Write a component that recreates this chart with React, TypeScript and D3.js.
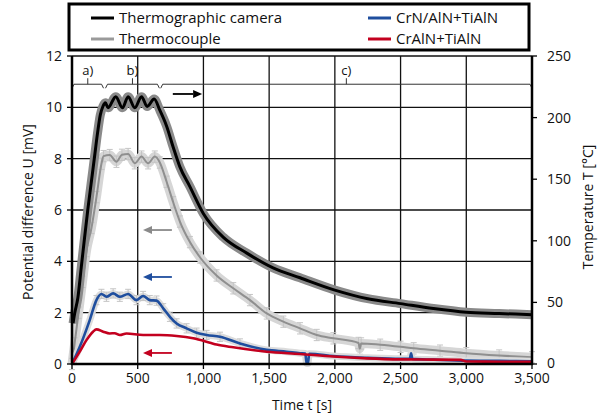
import React from "react";
import * as d3 from "d3";

// ---------- data ----------
const timeTicks = [0, 500, 1000, 1500, 2000, 2500, 3000, 3500];
const voltTicks = [0, 2, 4, 6, 8, 10, 12];
const tempTicks = [0, 50, 100, 150, 200, 250];

// Thermographic camera (temperature, °C, right axis)
const cameraTime = [8, 20, 45, 70, 95, 120, 145, 170, 195, 215, 235, 254, 274, 333, 384, 427, 478, 529, 572, 625, 668, 720, 770, 821, 897, 1000, 1150, 1330, 1530, 1735, 2000, 2250, 2500, 2750, 3000, 3250, 3500];
const cameraTemp = [33, 41, 54, 78, 102, 125, 146, 167, 188, 202, 209, 212, 208, 217, 208, 217, 208, 217, 209, 215, 206, 193, 176, 160, 144, 122, 103, 90, 78, 70, 60, 53, 49, 45, 42, 41, 40];

// Thermocouple (mV, left axis)
const tcTime = [0, 20, 50, 80, 110, 148, 186, 224, 240, 287, 338, 380, 427, 478, 529, 579, 630, 668, 720, 770, 821, 897, 975, 1100, 1227, 1354, 1482, 1608, 1735, 1862, 1989, 2180, 2190, 2200, 2345, 2500, 2600, 2800, 3000, 3250, 3500];
const tcVolt = [0, 0.8, 2.0, 3.2, 4.4, 5.3, 6.5, 7.8, 8.1, 8.14, 7.88, 8.15, 8.18, 7.82, 8.08, 7.82, 8.08, 7.85, 7.1, 6.3, 5.55, 4.75, 4.15, 3.45, 2.95, 2.49, 1.97, 1.65, 1.39, 1.13, 1.0, 0.82, 0.6, 0.8, 0.75, 0.67, 0.61, 0.52, 0.42, 0.33, 0.26];
const tcError = 0.22;

// CrN/AlN+TiAlN (mV)
const crnTime = [0, 59, 135, 186, 224, 262, 313, 364, 427, 491, 541, 592, 643, 694, 745, 796, 872, 948, 1024, 1126, 1278, 1482, 1634, 1735, 1775, 1785, 1795, 1805, 1989, 2250, 2500, 2570, 2580, 2590, 2750, 3000, 3250, 3500];
const crnVolt = [0, 0.67, 1.71, 2.49, 2.73, 2.62, 2.75, 2.62, 2.73, 2.49, 2.65, 2.49, 2.47, 2.17, 1.84, 1.58, 1.39, 1.22, 1.13, 1.06, 0.8, 0.55, 0.48, 0.42, 0.41, 0.02, 0.02, 0.4, 0.31, 0.24, 0.2, 0.2, 0.42, 0.2, 0.17, 0.13, 0.12, 0.11];
const crnError = 0.18;

// CrAlN+TiAlN (mV)
const cralnTime = [0, 59, 110, 160, 186, 237, 287, 325, 364, 415, 541, 668, 796, 922, 1050, 1100, 1227, 1482, 1735, 1989, 2243, 2497, 2750, 2957, 3000, 3250, 3500];
const cralnVolt = [0, 0.48, 0.93, 1.26, 1.35, 1.26, 1.19, 1.2, 1.13, 1.19, 1.13, 1.13, 1.09, 1.0, 0.83, 0.76, 0.65, 0.48, 0.39, 0.29, 0.22, 0.18, 0.17, 0.16, 0.1, 0.09, 0.09];

// phases
const phaseLabels = ["a)", "b)", "c)"];
const phaseStart = [0, 255, 675];
const phaseEnd = [240, 665, 3500];
const phaseLevel = 10.9;

const legendNames = ["Thermographic camera", "Thermocouple", "CrN/AlN+TiAlN", "CrAlN+TiAlN"];

// ---------- style ----------
const C_CAMERA = "#000000";
const C_HALO = "#8a8a8a";
const C_TC = "#8f8f8f";
const C_ERR = "#c4c4c4";
const C_BLUE = "#1f4e9e";
const C_RED = "#c3001f";
const FONT = "'Open Sans', 'Noto Sans', sans-serif";

const W = 603;
const H = 418;
const M = { left: 72, right: 532, top: 56, bottom: 364 };

export default function App() {
  const x = d3.scaleLinear().domain([0, 3500]).range([M.left, M.right]);
  const yL = d3.scaleLinear().domain([0, 12]).range([M.bottom, M.top]);
  const yR = d3.scaleLinear().domain([0, 250]).range([M.bottom, M.top]);

  const mk = (ts: number[], vs: number[], ys: d3.ScaleLinear<number, number>) =>
    d3
      .line<number>()
      .x((_, i) => x(ts[i]))
      .y((v) => ys(v))
      .curve(d3.curveMonotoneX)(vs) || "";

  const camPath = mk(cameraTime, cameraTemp, yR);
  const tcPath = mk(tcTime, tcVolt, yL);
  const crnPath = mk(crnTime, crnVolt, yL);
  const cralnPath = mk(cralnTime, cralnVolt, yL);

  const fmt = d3.format(",");

  const arrow = (x1: number, x2: number, y: number, color: string, key: string) => {
    const dir = Math.sign(x2 - x1);
    const head = 9;
    return (
      <g key={key}>
        <line x1={x1} x2={x2 - dir * head} y1={y} y2={y} stroke={color} strokeWidth={1.8} />
        <path d={`M${x2},${y} L${x2 - dir * head},${y - 4} L${x2 - dir * head},${y + 4} Z`} fill={color} />
      </g>
    );
  };

  const py = yL(phaseLevel);

  return (
    <svg width={W} height={H} style={{ position: "absolute", left: 0, top: 0, fontFamily: FONT }}>
      <rect x={0} y={0} width={W} height={H} fill="#fff" />
      {/* grid */}
      {timeTicks.map((t) => (
        <line key={"gx" + t} x1={x(t)} x2={x(t)} y1={M.top} y2={M.bottom} stroke="#111" strokeWidth={1.3} />
      ))}
      {voltTicks.map((v) => (
        <line key={"gy" + v} x1={M.left} x2={M.right} y1={yL(v)} y2={yL(v)} stroke="#111" strokeWidth={1.3} />
      ))}

      {/* phase brackets */}
      {phaseLabels.map((lab, i) => {
        const a = x(phaseStart[i]);
        const b = x(phaseEnd[i]);
        const m = (a + b) / 2;
        return (
          <g key={"ph" + i} stroke="#333" strokeWidth={1} fill="none">
            <path d={`M${a},${py + 4} L${a + 2},${py} L${b - 2},${py} L${b},${py + 4}`} />
            <line x1={m} x2={m} y1={py} y2={py - 6} />
            <text x={m} y={py - 9} textAnchor="middle" fontSize={13} fill="#111" stroke="none">
              {lab}
            </text>
          </g>
        );
      })}

      {/* thermocouple with error bars */}
      <path d={tcPath} fill="none" stroke="#d6d6d6" strokeWidth={9} strokeLinejoin="round" />
      {tcTime.map((t, i) => (
        <g key={"te" + i} stroke={C_ERR} strokeWidth={1}>
          <line x1={x(t)} x2={x(t)} y1={yL(tcVolt[i] + tcError)} y2={yL(tcVolt[i] - tcError)} />
          <line x1={x(t) - 3} x2={x(t) + 3} y1={yL(tcVolt[i] + tcError)} y2={yL(tcVolt[i] + tcError)} />
          <line x1={x(t) - 3} x2={x(t) + 3} y1={yL(tcVolt[i] - tcError)} y2={yL(tcVolt[i] - tcError)} />
        </g>
      ))}
      <path d={tcPath} fill="none" stroke={C_TC} strokeWidth={2} strokeLinejoin="round" />

      {/* camera */}
      <path d={camPath} fill="none" stroke={C_HALO} strokeWidth={9} strokeLinejoin="round" />
      <path d={camPath} fill="none" stroke={C_CAMERA} strokeWidth={3} strokeLinejoin="round" />

      {/* CrN/AlN+TiAlN */}
      <path d={crnPath} fill="none" stroke="#dcdcdc" strokeWidth={7} strokeLinejoin="round" />
      {crnTime.map((t, i) =>
        t > 150 && t < 1300 ? (
          <g key={"ce" + i} stroke={C_ERR} strokeWidth={1}>
            <line x1={x(t)} x2={x(t)} y1={yL(crnVolt[i] + crnError)} y2={yL(crnVolt[i] - crnError)} />
            <line x1={x(t) - 3} x2={x(t) + 3} y1={yL(crnVolt[i] + crnError)} y2={yL(crnVolt[i] + crnError)} />
            <line x1={x(t) - 3} x2={x(t) + 3} y1={yL(crnVolt[i] - crnError)} y2={yL(crnVolt[i] - crnError)} />
          </g>
        ) : null
      )}
      <path d={crnPath} fill="none" stroke={C_BLUE} strokeWidth={2.6} strokeLinejoin="round" />

      {/* CrAlN+TiAlN */}
      <path d={cralnPath} fill="none" stroke={C_RED} strokeWidth={2.6} strokeLinejoin="round" />

      {/* arrows */}
      {arrow(x(767), x(990), yL(10.52), "#000", "a0")}
      {arrow(x(760), x(540), yL(5.22), "#8a8a8a", "a1")}
      {arrow(x(760), x(540), yL(3.39), C_BLUE, "a2")}
      {arrow(x(760), x(540), yL(0.43), C_RED, "a3")}

      {/* axes */}
      <line x1={M.left} x2={M.left} y1={M.top} y2={M.bottom + 1} stroke="#000" strokeWidth={2.5} />
      <line x1={M.right} x2={M.right} y1={M.top} y2={M.bottom + 1} stroke="#000" strokeWidth={2.5} />
      <line x1={M.left - 1} x2={M.right + 1} y1={M.bottom} y2={M.bottom} stroke="#000" strokeWidth={2.5} />

      {voltTicks.map((v) => (
        <g key={"yl" + v}>
          <line x1={M.left - 5} x2={M.left} y1={yL(v)} y2={yL(v)} stroke="#000" strokeWidth={1.3} />
          <text x={M.left - 10} y={yL(v)} dy="0.35em" textAnchor="end" fontSize={14} fill="#111">
            {v}
          </text>
        </g>
      ))}
      {tempTicks.map((v) => (
        <g key={"yr" + v}>
          <line x1={M.right} x2={M.right + 5} y1={yR(v)} y2={yR(v)} stroke="#000" strokeWidth={1.3} />
          <text x={M.right + 15} y={yR(v)} dy={v === 0 ? "0.25em" : "0.35em"} textAnchor="start" fontSize={14} fill="#111">
            {v}
          </text>
        </g>
      ))}
      {timeTicks.map((t) => (
        <g key={"xt" + t}>
          <line x1={x(t)} x2={x(t)} y1={M.bottom} y2={M.bottom + 5} stroke="#000" strokeWidth={1.3} />
          <text x={x(t)} y={M.bottom + 19} textAnchor="middle" fontSize={14} fill="#111">
            {fmt(t)}
          </text>
        </g>
      ))}

      <text x={(M.left + M.right) / 2} y={410} textAnchor="middle" fontSize={14} fill="#111">
        Time t [s]
      </text>
      <text transform={`translate(33,${(M.top + M.bottom) / 2 + 2}) rotate(-90)`} textAnchor="middle" fontSize={14} fill="#111">
        Potential difference U [mV]
      </text>
      <text transform={`translate(593,${207}) rotate(-90)`} textAnchor="middle" fontSize={14} fill="#111">
        Temperature T [°C]
      </text>

      {/* legend */}
      <rect x={69} y={4} width={460} height={46} fill="#fff" stroke="#000" strokeWidth={3} />
      {legendNames.map((name, i) => {
        const col = i < 2 ? 0 : 1;
        const row = i % 2;
        const lx = col === 0 ? 91 : 368;
        const ly = row === 0 ? 18 : 39;
        const color = [C_CAMERA, "#9a9a9a", C_BLUE, C_RED][i];
        return (
          <g key={"lg" + i}>
            <line x1={lx} x2={lx + 23} y1={ly} y2={ly} stroke={color} strokeWidth={3} />
            <text x={lx + 28} y={ly} dy="0.35em" fontSize={15} fill="#111">
              {name}
            </text>
          </g>
        );
      })}
    </svg>
  );
}
